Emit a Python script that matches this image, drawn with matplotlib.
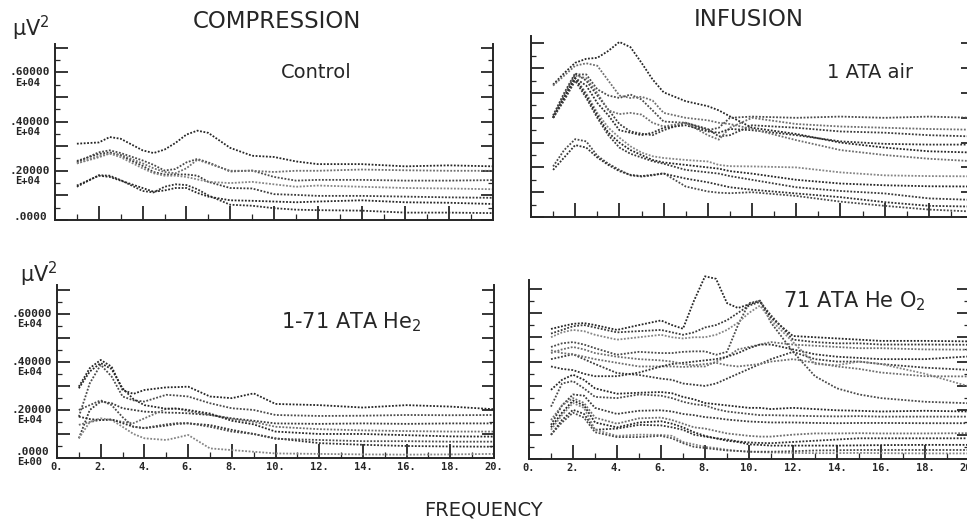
import matplotlib
matplotlib.use('Agg')
import matplotlib.pyplot as plt
from matplotlib.ticker import MultipleLocator

# spectral power in units of 1000 uV^2
# top left: compression, control
freq_control = [1, 2, 2.5, 3, 4, 4.5, 5, 5.5, 6, 6.5, 7, 8, 9, 10, 11, 12, 14, 16, 18, 20]
control = [
    [3.10, 3.15, 3.37, 3.30, 2.83, 2.72, 2.86, 3.13, 3.47, 3.63, 3.54, 2.93, 2.61, 2.56, 2.38, 2.27, 2.27, 2.18, 2.22, 2.18],
    [2.35, 2.75, 2.83, 2.72, 2.42, 2.24, 2.01, 2.07, 2.34, 2.48, 2.34, 1.97, 2.01, 1.75, 1.60, 1.63, 1.63, 1.60, 1.60, 1.62],
    [2.40, 2.68, 2.75, 2.62, 2.20, 1.95, 1.85, 1.85, 1.85, 1.80, 1.55, 1.30, 1.28, 1.05, 1.02, 0.98, 0.98, 0.95, 0.92, 0.90],
    [2.30, 2.55, 2.70, 2.65, 2.30, 2.10, 1.95, 1.90, 2.10, 2.45, 2.30, 2.00, 2.00, 1.95, 2.00, 2.00, 2.05, 2.02, 2.00, 2.00],
    [1.35, 1.82, 1.80, 1.62, 1.18, 1.12, 1.35, 1.45, 1.42, 1.25, 1.00, 0.62, 0.58, 0.48, 0.42, 0.40, 0.38, 0.30, 0.30, 0.28],
    [2.30, 2.60, 2.70, 2.55, 2.10, 1.90, 1.80, 1.80, 1.75, 1.65, 1.55, 1.50, 1.55, 1.45, 1.35, 1.40, 1.35, 1.30, 1.28, 1.25],
    [1.40, 1.80, 1.75, 1.60, 1.30, 1.15, 1.20, 1.30, 1.30, 1.10, 0.95, 0.80, 0.78, 0.75, 0.72, 0.75, 0.80, 0.72, 0.70, 0.65],
]

# top right: infusion, 1 ATA air
freq_air = [1, 1.5, 2, 2.5, 3, 3.5, 4, 4.5, 5, 5.5, 6, 7, 8, 8.5, 9, 10, 12, 14, 16, 18, 20]
air = [
    [5.34, 5.80, 6.22, 6.38, 6.42, 6.70, 7.06, 6.85, 6.22, 5.55, 5.03, 4.67, 4.47, 4.30, 4.06, 3.60, 3.35, 3.00, 2.80, 2.65, 2.60],
    [4.03, 4.90, 5.75, 5.75, 5.15, 4.90, 4.80, 4.94, 4.74, 4.30, 3.85, 3.80, 3.50, 3.60, 4.00, 4.05, 4.00, 4.05, 4.00, 4.05, 4.00],
    [4.10, 5.00, 5.80, 5.50, 4.90, 4.33, 3.75, 3.45, 3.36, 3.30, 3.50, 3.80, 3.55, 3.25, 3.30, 3.70, 3.60, 3.45, 3.40, 3.30, 3.25],
    [4.00, 4.85, 5.70, 5.60, 5.00, 4.30, 4.15, 4.20, 4.13, 3.80, 3.65, 3.80, 3.30, 3.12, 3.60, 4.00, 3.75, 3.65, 3.60, 3.55, 3.52],
    [4.00, 4.80, 5.60, 5.30, 4.60, 4.10, 3.50, 3.40, 3.30, 3.40, 3.60, 3.70, 3.45, 3.40, 3.55, 3.50, 3.30, 3.05, 2.95, 2.92, 2.92],
    [4.00, 4.80, 5.60, 5.00, 4.20, 3.60, 3.20, 2.85, 2.60, 2.45, 2.38, 2.30, 2.24, 2.10, 2.05, 2.04, 2.00, 1.80, 1.68, 1.65, 1.64],
    [4.00, 4.80, 5.60, 4.90, 4.10, 3.40, 3.00, 2.70, 2.50, 2.30, 2.20, 2.10, 2.00, 1.95, 1.85, 1.75, 1.50, 1.35, 1.28, 1.24, 1.23],
    [2.04, 2.70, 3.14, 3.05, 2.47, 2.15, 1.90, 1.68, 1.63, 1.68, 1.77, 1.23, 1.03, 0.98, 0.96, 1.00, 0.85, 0.62, 0.45, 0.30, 0.22],
    [4.00, 4.70, 5.50, 4.80, 4.00, 3.30, 2.80, 2.55, 2.40, 2.25, 2.15, 1.90, 1.80, 1.75, 1.65, 1.50, 1.20, 1.05, 0.95, 0.75, 0.69],
    [5.30, 5.70, 6.10, 6.20, 6.10, 5.50, 4.90, 4.80, 4.85, 4.70, 4.20, 4.00, 3.90, 3.80, 3.75, 3.55, 3.10, 2.70, 2.50, 2.35, 2.25],
    [1.90, 2.40, 2.90, 2.80, 2.40, 2.10, 1.85, 1.70, 1.65, 1.70, 1.75, 1.55, 1.40, 1.30, 1.20, 1.10, 0.95, 0.80, 0.60, 0.45, 0.42],
]

# bottom left: compression, 1-71 ATA He2
freq_he2 = [1, 1.5, 2, 2.5, 3, 3.5, 4, 5, 5.5, 6, 7, 8, 9, 10, 12, 14, 16, 18, 20]
he2 = [
    [2.97, 3.74, 4.08, 3.80, 2.83, 2.67, 2.83, 2.94, 2.95, 2.97, 2.56, 2.49, 2.69, 2.25, 2.20, 2.10, 2.20, 2.14, 2.03],
    [1.72, 3.11, 3.88, 3.39, 2.56, 2.40, 2.35, 2.63, 2.60, 2.56, 2.28, 2.07, 2.00, 1.79, 1.75, 1.76, 1.79, 1.78, 1.79],
    [0.82, 2.00, 2.35, 2.28, 2.07, 2.00, 1.93, 1.89, 1.88, 1.86, 1.79, 1.65, 1.55, 1.44, 1.42, 1.44, 1.42, 1.44, 1.44],
    [1.38, 1.50, 1.58, 1.60, 1.50, 1.45, 1.65, 2.05, 2.07, 1.95, 1.80, 1.62, 1.50, 1.30, 1.20, 1.15, 1.12, 1.10, 1.10],
    [1.72, 1.62, 1.58, 1.60, 1.45, 1.30, 1.24, 1.35, 1.42, 1.44, 1.37, 1.17, 1.00, 0.82, 0.62, 0.55, 0.50, 0.48, 0.47],
    [0.82, 1.50, 1.65, 1.58, 1.30, 1.00, 0.82, 0.75, 0.85, 0.96, 0.40, 0.33, 0.26, 0.19, 0.17, 0.15, 0.14, 0.15, 0.17],
    [2.90, 3.60, 3.95, 3.70, 2.90, 2.45, 2.20, 2.05, 2.05, 2.00, 1.85, 1.55, 1.40, 1.10, 1.00, 1.00, 0.95, 0.90, 0.89],
    [2.00, 2.20, 2.40, 2.20, 1.70, 1.30, 1.25, 1.40, 1.45, 1.45, 1.30, 1.10, 1.00, 0.80, 0.75, 0.70, 0.70, 0.68, 0.68],
]

# bottom right: infusion, 71 ATA HeO2
freq_heo2 = [1, 1.5, 2, 2.5, 3, 4, 5, 6, 6.5, 7, 7.5, 8, 8.5, 9, 9.5, 10, 10.5, 11, 12, 13, 14, 15, 16, 18, 20]
heo2 = [
    [5.34, 5.45, 5.55, 5.58, 5.50, 5.30, 5.50, 5.69, 5.50, 5.35, 6.50, 7.50, 7.40, 6.40, 6.20, 6.35, 6.50, 5.80, 5.05, 5.00, 4.95, 4.90, 4.85, 4.85, 4.83],
    [4.60, 4.75, 4.80, 4.70, 4.55, 4.28, 4.40, 4.35, 4.35, 4.40, 4.42, 4.42, 4.28, 4.40, 5.50, 6.40, 6.50, 5.60, 4.40, 3.40, 2.90, 2.65, 2.50, 2.35, 2.29],
    [4.10, 4.20, 4.30, 4.10, 3.90, 3.53, 3.45, 3.30, 3.25, 3.10, 3.05, 3.00, 3.10, 3.30, 3.50, 3.70, 3.90, 4.10, 4.40, 4.10, 4.00, 4.00, 3.90, 3.75, 3.66],
    [4.46, 4.35, 4.30, 4.20, 4.10, 3.95, 3.80, 3.80, 3.80, 3.78, 3.80, 3.80, 4.00, 4.20, 4.50, 4.60, 4.70, 4.80, 4.70, 4.65, 4.60, 4.55, 4.55, 4.50, 4.49],
    [3.80, 3.70, 3.65, 3.50, 3.40, 3.40, 3.55, 3.80, 3.90, 3.95, 4.00, 4.05, 4.10, 4.20, 4.35, 4.55, 4.70, 4.70, 4.50, 4.30, 4.20, 4.15, 4.10, 4.10, 4.21],
    [5.00, 5.20, 5.30, 5.25, 5.10, 4.90, 5.00, 5.10, 5.00, 4.95, 5.00, 5.00, 5.10, 5.30, 5.60, 6.00, 6.30, 5.70, 4.80, 3.90, 3.85, 4.00, 3.90, 3.50, 2.98],
    [2.84, 3.25, 3.46, 3.25, 2.90, 2.68, 2.72, 2.75, 2.70, 2.55, 2.45, 2.30, 2.25, 2.20, 2.15, 2.10, 2.10, 2.05, 2.10, 2.05, 2.00, 1.98, 1.95, 1.98, 1.95],
    [2.15, 3.10, 3.20, 2.90, 2.55, 2.50, 2.65, 2.60, 2.50, 2.35, 2.25, 2.20, 2.05, 1.95, 1.90, 1.85, 1.80, 1.80, 1.78, 1.76, 1.75, 1.76, 1.74, 1.74, 1.74],
    [1.40, 2.20, 2.65, 2.60, 2.10, 1.85, 1.98, 2.00, 1.95, 1.85, 1.80, 1.72, 1.68, 1.62, 1.58, 1.54, 1.52, 1.50, 1.50, 1.48, 1.47, 1.48, 1.48, 1.47, 1.47],
    [1.60, 2.20, 2.50, 2.30, 1.70, 1.45, 1.67, 1.70, 1.60, 1.45, 1.30, 1.25, 1.15, 1.05, 1.00, 0.95, 0.92, 0.92, 1.00, 1.05, 1.05, 1.06, 1.05, 1.05, 1.06],
    [0.99, 1.60, 2.02, 1.85, 1.20, 1.25, 1.40, 1.38, 1.30, 1.20, 1.00, 0.92, 0.85, 0.80, 0.72, 0.68, 0.66, 0.65, 0.70, 0.75, 0.80, 0.85, 0.85, 0.85, 0.85],
    [1.20, 1.80, 2.30, 2.10, 1.20, 0.95, 1.00, 0.99, 0.95, 0.70, 0.60, 0.50, 0.45, 0.38, 0.33, 0.30, 0.28, 0.27, 0.25, 0.24, 0.24, 0.25, 0.24, 0.23, 0.23],
    [1.30, 1.90, 2.40, 2.20, 1.50, 1.30, 1.50, 1.55, 1.45, 1.30, 1.10, 0.95, 0.85, 0.75, 0.70, 0.60, 0.58, 0.55, 0.55, 0.55, 0.55, 0.56, 0.57, 0.58, 0.58],
    [1.00, 1.50, 1.90, 1.70, 1.10, 0.90, 0.90, 0.95, 0.85, 0.65, 0.50, 0.45, 0.40, 0.35, 0.33, 0.30, 0.30, 0.30, 0.32, 0.35, 0.36, 0.37, 0.37, 0.37, 0.37],
    [5.15, 5.30, 5.45, 5.50, 5.40, 5.20, 5.25, 5.30, 5.20, 5.10, 5.20, 5.40, 5.50, 5.70, 6.00, 6.30, 6.45, 5.90, 4.90, 4.80, 4.75, 4.75, 4.70, 4.70, 4.69],
    [4.35, 4.50, 4.60, 4.50, 4.35, 4.20, 4.10, 4.05, 4.00, 3.90, 3.85, 3.90, 3.95, 3.85, 3.80, 3.85, 3.90, 4.00, 4.10, 3.95, 3.80, 3.70, 3.55, 3.40, 3.39],
]

freq_ticks = [0, 2, 4, 6, 8, 10, 12, 14, 16, 18, 20]
freq_ticklabels = ['0.', '2.', '4.', '6.', '8.', '10.', '12.', '14.', '16.', '18.', '20.']
power_ticks = [0, 2, 4, 6]
power_ticklabels = ['.0000', '.20000', '.40000', '.60000']
power_exponents = ['', 'E+04', 'E+04', 'E+04']

inks = ['#262626', '#4a4a4a', '#3a3a3a', '#6e6e6e', '#303030', '#858585']
mono = 'DejaVu Sans Mono'
ink = '#262626'

fig = plt.figure(figsize=(9.67, 5.21), dpi=100)
fig.patch.set_facecolor('white')


def panel(rect, freqs, curves, ytop, with_ylabels, with_xlabels, zero_exp=''):
    ax = fig.add_axes(rect)
    ax.set_facecolor('none')
    for i, c in enumerate(curves):
        ax.plot(freqs, c, linestyle=(0, (1, 0.9)), lw=1.3, color=inks[i % len(inks)], clip_on=False)
    ax.set_xlim(0, 20)
    ax.set_ylim(0, ytop)
    ax.spines['top'].set_visible(False)
    for s in ['left', 'right', 'bottom']:
        ax.spines[s].set_linewidth(1.4)
        ax.spines[s].set_color(ink)
    ax.xaxis.set_major_locator(MultipleLocator(2))
    ax.xaxis.set_minor_locator(MultipleLocator(1))
    ax.yaxis.set_major_locator(MultipleLocator(1))
    ax.yaxis.set_minor_locator(MultipleLocator(0.5))
    ax.tick_params(axis='y', which='major', direction='in', length=9, width=1.3,
                   left=True, right=True, labelleft=False, color=ink)
    ax.tick_params(axis='y', which='minor', direction='in', length=3.5, width=0.9,
                   left=True, right=True, color=ink)
    ax.tick_params(axis='x', which='major', direction='in', length=10, width=1.3,
                   top=False, color=ink, pad=3)
    ax.tick_params(axis='x', which='minor', direction='in', length=4, width=0.9,
                   top=False, color=ink)
    if with_xlabels:
        ax.set_xticks(freq_ticks, freq_ticklabels, fontfamily=mono, fontsize=7.5,
                      fontweight='bold', color=ink)
    else:
        ax.set_xticks(freq_ticks, [])
    if with_ylabels:
        for v, lab, ex in zip(power_ticks, power_ticklabels, power_exponents):
            dy = 0
            if v == 0:
                ex = zero_exp
                dy = 2 if ex == '' else 4.5
            ax.annotate(lab, xy=(0, v), xycoords=('axes fraction', 'data'),
                        xytext=(-18, dy), textcoords='offset points', ha='center', va='center',
                        fontfamily=mono, fontsize=8, fontweight='bold', color=ink)
            if ex:
                ax.annotate(ex, xy=(0, v), xycoords=('axes fraction', 'data'),
                            xytext=(-20, dy - 7.5), textcoords='offset points', ha='center', va='center',
                            fontfamily=mono, fontsize=7.5, fontweight='bold', color=ink)
    return ax


panel([55 / 967, 1 - 220 / 521, 438 / 967, 176 / 521], freq_control, control, 7.15, True, False)
panel([531 / 967, 1 - 217 / 521, 442 / 967, 181 / 521], freq_air, air, 7.3, False, False)
panel([57 / 967, 1 - 458 / 521, 437 / 967, 173 / 521], freq_he2, he2, 7.2, True, True, 'E+00')
panel([529 / 967, 1 - 459 / 521, 440 / 967, 179 / 521], freq_heo2, heo2, 7.35, False, True)

# headings and panel labels
fig.text(277 / 967, 1 - 21 / 521, 'COMPRESSION', ha='center', va='center', fontsize=16.5, color=ink)
fig.text(749 / 967, 1 - 20 / 521, 'INFUSION', ha='center', va='center', fontsize=16.5, color=ink)
fig.text(483 / 967, 1 - 510 / 521, 'FREQUENCY', ha='center', va='center', fontsize=14, color=ink)
fig.text(12 / 967, 1 - 36 / 521, 'μV$^2$', ha='left', va='baseline', fontsize=15, color=ink)
fig.text(20 / 967, 1 - 282 / 521, 'μV$^2$', ha='left', va='baseline', fontsize=15, color=ink)
fig.text(316 / 967, 1 - 73 / 521, 'Control', ha='center', va='center', fontsize=14, color=ink)
fig.text(870 / 967, 1 - 72 / 521, '1 ATA air', ha='center', va='center', fontsize=14, color=ink)
fig.text(351 / 967, 1 - 322 / 521, '1-71 ATA He$_2$', ha='center', va='center', fontsize=15, color=ink)
fig.text(854 / 967, 1 - 301 / 521, '71 ATA He O$_2$', ha='center', va='center', fontsize=15, color=ink)

fig.savefig('out.png', dpi=100)
